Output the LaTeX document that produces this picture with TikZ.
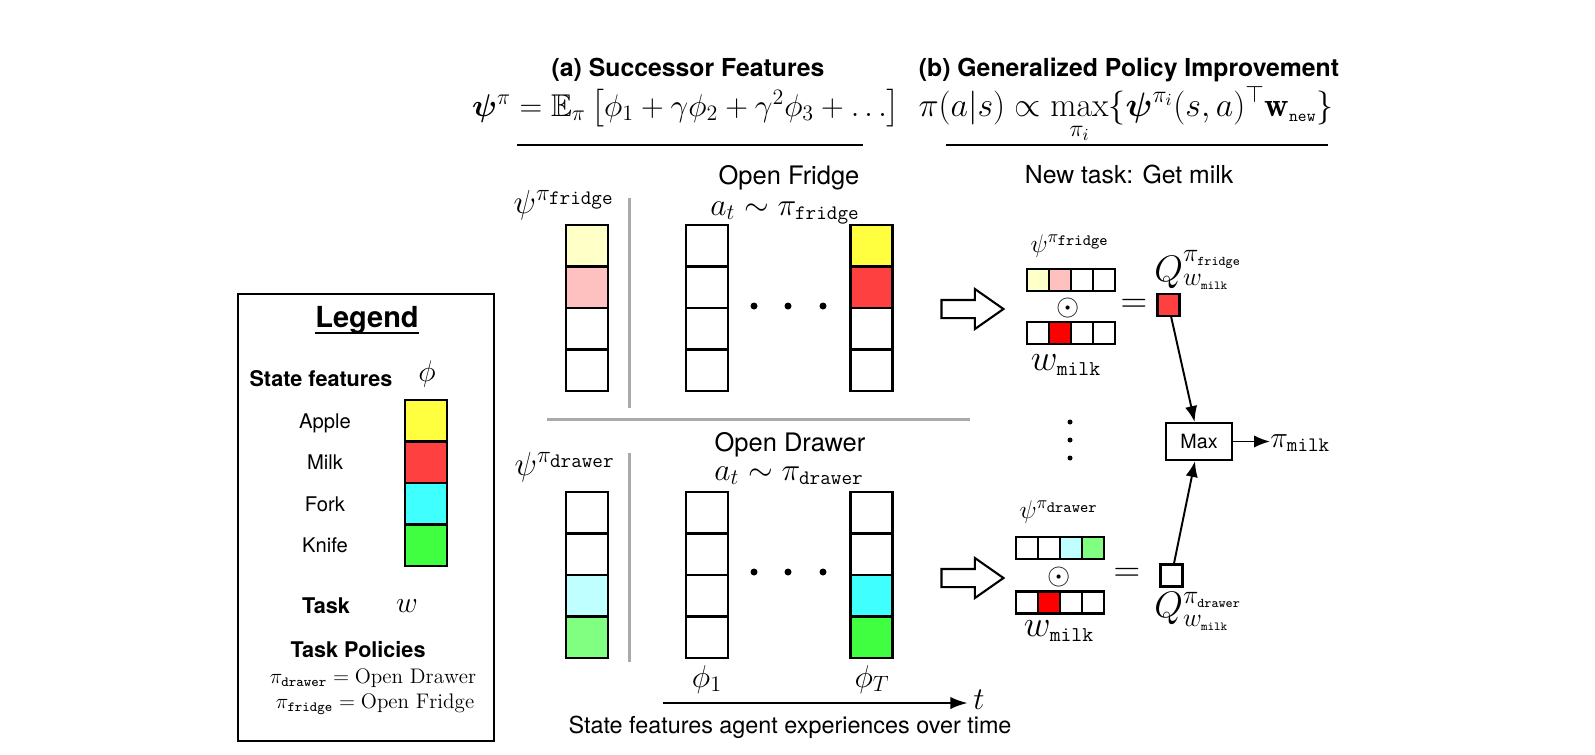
\RequirePackage{fix-cm}
\documentclass[tikz,border=0pt]{standalone}
\usepackage{amsmath,amssymb,bm}
\usepackage{fontspec}
\newfontfamily\hel{TeX Gyre Heros}
\usetikzlibrary{arrows.meta,shapes.arrows}
\definecolor{apple}{RGB}{255,255,64}
\definecolor{milk}{RGB}{255,64,64}
\definecolor{fork}{RGB}{64,255,255}
\definecolor{knife}{RGB}{64,255,64}
\definecolor{lapple}{RGB}{255,255,200}
\definecolor{lmilk}{RGB}{255,192,192}
\definecolor{lfork}{RGB}{192,255,255}
\definecolor{lknife}{RGB}{128,255,128}
\definecolor{wred}{RGB}{255,0,0}
\definecolor{sepgray}{RGB}{170,170,170}
\newcommand{\ttsz}[2]{\mbox{\fontsize{#1}{#1}\selectfont\ttfamily #2}}
\newcommand{\hsz}[1]{\hel\fontsize{#1}{#1}\selectfont}
\newcommand{\msz}[1]{\fontsize{#1}{#1}\selectfont}
\begin{document}
\begin{tikzpicture}[x=0.02cm,y=-0.02cm,
	txt/.style={anchor=base,inner sep=0.5pt},
	cell/.style={minimum width=0.84cm,minimum height=0.83cm,inner sep=0pt,outer sep=0pt},
	tiny/.style={minimum width=0.44cm,minimum height=0.44cm,inner sep=0pt,outer sep=0pt},
	cellline/.style={line width=1.25pt},
	sep/.style={sepgray,line width=1.7pt},
	dot/.style={circle,fill,inner sep=0pt,minimum size=0.14cm},
	vdot/.style={circle,fill,inner sep=0pt,minimum size=0.1cm},
	hollow/.style={single arrow,draw,line width=1.2pt,minimum height=1.24cm,inner sep=0pt,inner ysep=0.16cm,single arrow head extend=0.22cm,single arrow tip angle=70,single arrow head indent=0pt}]
	\useasboundingbox (0,0) rectangle (1595,754);

	% headers
	\node[txt,font=\hsz{14.1}\bfseries] (titlea) at (688,76) {(a) Successor Features};
	\node[txt,font=\hsz{14.1}\bfseries] (titleb) at (1129,76) {(b) Generalized Policy Improvement};
	\node[txt,font=\msz{17.9}] (sfeq) at (686,116) {$\bm{\psi}^{\pi}=\mathbb{E}_{\pi}\left[\phi_1+\gamma\phi_2+\gamma^2\phi_3+\ldots\right]$};
	\node[txt,font=\msz{19.3}] (gpieq) at (1126,116) {$\displaystyle\pi(a|s)\propto\max_{\pi_i}\{\bm{\psi}^{\pi_i}(s,a)^{\top}\mathbf{w}_{\ttsz{9.5}{new}}\}$};
	\draw[line width=1.7pt] (517,145) -- (863,145);
	\draw[line width=1.7pt] (946,145) -- (1328,145);
	\node[txt,font=\hsz{14.1}] (newtask) at (1129,183) {New task: Get milk};

	% legend
	\node[draw,line width=1.3pt,minimum width=5.12cm,minimum height=8.94cm,inner sep=0pt] (legend) at (366,517.5) {};
	\node[txt,inner sep=0pt,font=\hsz{16.5}\bfseries] (legendtitle) at (367,327) {Legend};
	\draw[line width=1.3pt] ([yshift=-0.12cm]legendtitle.base west) -- ([yshift=-0.12cm]legendtitle.base east);
	\node[txt,font=\hsz{12.3}\bfseries] (statefeat) at (321,386) {State features};
	\node[txt,font=\msz{17}] (phisym) at (427,381) {$\phi$};
	\foreach \c [count=\i] in {apple,milk,fork,knife}
		\node[cell,fill=\c] (leg\i) at (426,{379.25+41.5*\i}) {};
	\foreach \t [count=\i] in {Apple,Milk,Fork,Knife}
		\node[txt,font=\hsz{11.5}] (legname\i) at (325,{386.5+41.5*\i}) {\t};
	\node[txt,font=\hsz{12.3}\bfseries] (tasklbl) at (326,613) {Task};
	\node[txt,font=\msz{17}] (wsym) at (407,612) {$w$};
	\node[txt,font=\hsz{12.3}\bfseries] (policies) at (358,657) {Task Policies};
	\node[txt,font=\msz{12}] (poldrawer) at (373,683) {$\pi_{\ttsz{8}{drawer}}=\mathrm{Open\ Drawer}$};
	\node[txt,font=\msz{12}] (polfridge) at (375,708) {$\pi_{\ttsz{8}{fridge}}=\mathrm{Open\ Fridge}$};

	% (a) open fridge
	\node[txt,font=\hsz{14.5}] (openfridge) at (789,184) {Open Fridge};
	\node[txt,font=\msz{18}] (actfridge) at (785,215) {$a_t\sim\pi_{\ttsz{11.7}{fridge}}$};
	\node[txt,font=\msz{19}] (psifridgelbl) at (564,213) {$\psi^{\pi_{\ttsz{11.7}{fridge}}}$};
	\foreach \c [count=\i] in {lapple,lmilk,white,white}
		\node[cell,fill=\c] (psifridge\i) at (587,{204.25+41.5*\i}) {};
	\foreach \i in {1,...,4}
		\node[cell] (phifridgeone\i) at (707,{204.25+41.5*\i}) {};
	\foreach \c [count=\i] in {apple,milk,white,white}
		\node[cell,fill=\c] (phifridgeT\i) at (871.5,{204.25+41.5*\i}) {};
	\foreach \x [count=\i] in {754,788,823}
		\node[dot] (hdotsf\i) at (\x,306) {};

	\draw[sep] (629,198) -- (629,408);
	\draw[sep] (547,419) -- (970,419);
	\draw[sep] (629,453) -- (629,662);

	% (a) open drawer
	\node[txt,font=\hsz{14.5}] (opendrawer) at (790,451) {Open Drawer};
	\node[txt,font=\msz{18}] (actdrawer) at (789,480) {$a_t\sim\pi_{\ttsz{11.7}{drawer}}$};
	\node[txt,font=\msz{19}] (psidrawerlbl) at (565,475) {$\psi^{\pi_{\ttsz{11.7}{drawer}}}$};
	\foreach \c [count=\i] in {white,white,lfork,lknife}
		\node[cell,fill=\c] (psidrawer\i) at (587,{471.25+41.5*\i}) {};
	\foreach \i in {1,...,4}
		\node[cell] (phidrawerone\i) at (707,{471.25+41.5*\i}) {};
	\foreach \c [count=\i] in {white,white,fork,knife}
		\node[cell,fill=\c] (phidrawerT\i) at (871.5,{471.25+41.5*\i}) {};
	\foreach \x [count=\i] in {754,788,823}
		\node[dot] (hdotsd\i) at (\x,572) {};
	\node[txt,font=\msz{18}] (phione) at (707,687) {$\phi_1$};
	\node[txt,font=\msz{18}] (phiT) at (872,687) {$\phi_T$};

	% time axis
	\coordinate (tstart) at (663,703);
	\coordinate (tend) at (968,703);
	\draw[-{Latex[length=10pt,width=7pt]},line width=1.5pt] (tstart) -- (tend);
	\node[txt,font=\msz{18}] (tlbl) at (979,709) {$t$};
	\node[txt,font=\hsz{13.3}] (caption) at (790,733) {State features agent experiences over time};

	% (b) fridge row
	\node[hollow] (arrowf) at (966,309) {};
	\node[txt,font=\msz{14.5}] (psifridgesm) at (1070,252) {$\psi^{\pi_{\ttsz{9}{fridge}}}$};
	\foreach \c [count=\i] in {lapple,lmilk,white,white}
		\node[tiny,fill=\c] (psirowf\i) at ({1016+22*\i},280) {};
	\node[font=\msz{17}] (odotf) at (1068,308) {$\odot$};
	\foreach \c [count=\i] in {white,wred,white,white}
		\node[tiny,fill=\c] (wrowf\i) at ({1016+22*\i},333) {};
	\node[txt,font=\msz{21}] (wmilkf) at (1066,370) {$w_{\ttsz{12}{milk}}$};
	\node[font=\msz{21}] (eqf) at (1134,306) {$=$};
	\node[tiny,fill=milk,draw,line width=1.25pt] (qfridge) at (1168.5,305) {};
	\node[txt,font=\msz{21}] (qfridgelbl) at (1198,281) {$Q^{\pi_{\ttsz{7.6}{fridge}}}_{w_{\ttsz{7}{milk}}}$};

	% (b) drawer row
	\node[hollow] (arrowd) at (966,578) {};
	\node[txt,font=\msz{14.5}] (psidrawersm) at (1059,518) {$\psi^{\pi_{\ttsz{9}{drawer}}}$};
	\foreach \c [count=\i] in {white,white,lfork,lknife}
		\node[tiny,fill=\c] (psirowd\i) at ({1005+22*\i},548) {};
	\node[font=\msz{17}] (odotd) at (1059,577) {$\odot$};
	\foreach \c [count=\i] in {white,wred,white,white}
		\node[tiny,fill=\c] (wrowd\i) at ({1005+22*\i},602.5) {};
	\node[txt,font=\msz{21}] (wmilkd) at (1059,636) {$w_{\ttsz{12}{milk}}$};
	\node[font=\msz{21}] (eqd) at (1127,575) {$=$};
	\node[tiny,draw,line width=1.25pt] (qdrawer) at (1171.5,575.5) {};
	\node[txt,font=\msz{21}] (qdrawerlbl) at (1198,617) {$Q^{\pi_{\ttsz{7.6}{drawer}}}_{w_{\ttsz{7}{milk}}}$};

	% cell outlines on top of the fills
	\foreach \col in {leg,psifridge,phifridgeone,phifridgeT,psidrawer,phidrawerone,phidrawerT,psirowf,wrowf,psirowd,wrowd}
		\foreach \i in {1,...,4}
			\draw[cellline] (\col\i.south west) rectangle (\col\i.north east);

	% max
	\foreach \y [count=\i] in {422,440,458}
		\node[vdot] (vdots\i) at (1070,\y) {};
	\node[draw,line width=1.25pt,minimum width=1.32cm,minimum height=0.74cm,font=\hsz{11.2}] (maxnode) at (1199,441.5) {Max};
	\node[anchor=base west,inner sep=0pt,font=\msz{17}] (pimilk) at (1270,447) {$\pi_{\ttsz{11.7}{milk}}$};
	\draw[-{Latex[length=9pt,width=7pt]},line width=1.1pt] (qfridge) -- (maxnode);
	\draw[-{Latex[length=9pt,width=7pt]},line width=1.1pt] (qdrawer) -- (maxnode);
	\draw[-{Latex[length=9pt,width=7pt]},line width=1.1pt] (maxnode.east) -- (pimilk.west |- maxnode.east);
\end{tikzpicture}
\end{document}
